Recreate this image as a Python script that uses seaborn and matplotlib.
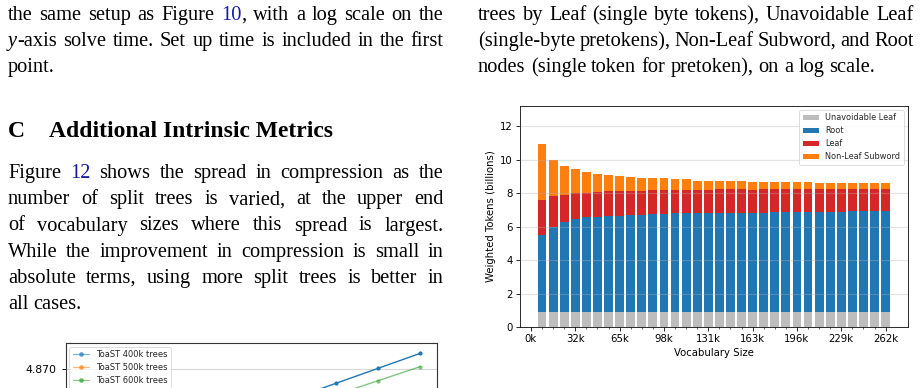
import re
import numpy as np
import pandas as pd
import matplotlib
matplotlib.use("Agg")
import matplotlib.pyplot as plt
import seaborn as sns
from matplotlib.lines import Line2D
from matplotlib.ticker import FixedLocator

# ---------------- data: main chart ----------------
vocab_sizes = [8192, 16384, 24576, 32768, 40960, 49152, 57344, 65536,
               73728, 81920, 90112, 98304, 106496, 114688, 122880, 131072,
               139264, 147456, 155648, 163840, 172032, 180224, 188416, 196608,
               204800, 212992, 221184, 229376, 237568, 245760, 253952, 262144]
unavoidable_leaf = [0.90, 0.90, 0.90, 0.90, 0.90, 0.90, 0.90, 0.90,
                    0.90, 0.90, 0.90, 0.90, 0.90, 0.90, 0.90, 0.90,
                    0.90, 0.90, 0.90, 0.90, 0.90, 0.90, 0.90, 0.90,
                    0.90, 0.90, 0.90, 0.90, 0.90, 0.90, 0.90, 0.90]
root = [4.57, 5.09, 5.39, 5.53, 5.65, 5.69, 5.75, 5.75,
        5.79, 5.79, 5.87, 5.87, 5.91, 5.91, 5.91, 5.91,
        5.91, 5.91, 5.91, 5.91, 5.91, 5.99, 5.99, 5.99,
        5.99, 5.99, 5.99, 5.99, 6.03, 6.03, 6.03, 6.03]
leaf = [2.14, 1.86, 1.62, 1.56, 1.44, 1.50, 1.50, 1.50,
        1.46, 1.46, 1.44, 1.44, 1.40, 1.40, 1.40, 1.40,
        1.46, 1.46, 1.46, 1.40, 1.46, 1.38, 1.38, 1.38,
        1.38, 1.38, 1.38, 1.38, 1.34, 1.34, 1.34, 1.34]
non_leaf_subword = [3.35, 2.15, 1.68, 1.42, 1.24, 1.02, 0.90, 0.84,
                    0.78, 0.72, 0.66, 0.66, 0.60, 0.60, 0.54, 0.54,
                    0.48, 0.48, 0.48, 0.48, 0.42, 0.42, 0.42, 0.42,
                    0.42, 0.36, 0.36, 0.36, 0.36, 0.36, 0.36, 0.36]
series_names = ["Unavoidable Leaf", "Root", "Leaf", "Non-Leaf Subword"]
xtick_values = [0, 32768, 65536, 98304, 131072, 163840, 196608, 229376, 262144]
xtick_labels = ["0k", "32k", "65k", "98k", "131k", "163k", "196k", "229k", "262k"]
ytick_values = [0, 2, 4, 6, 8, 10, 12]

# ---------------- data: partial chart (bottom left) ----------------
toast_labels = ["ToaST 400k trees", "ToaST 500k trees", "ToaST 600k trees", "ToaST 700k trees"]
toast400_x = [6, 7, 8, 9]
toast400_y = [4.86758, 4.86883, 4.87008, 4.87133]
toast600_x = [7, 8, 9]
toast600_y = [4.86788, 4.86905, 4.87022]
partial_yticks = [4.855, 4.860, 4.865, 4.870]

# ---------------- page text ----------------
left_top_lines = ["the same setup as Figure {b:10}, with a log scale on the",
                  "{i:y}-axis solve time. Set up time is included in the first",
                  "point."]
right_top_lines = ["trees by Leaf (single byte tokens), Unavoidable Leaf",
                   "(single-byte pretokens), Non-Leaf Subword, and Root",
                   "nodes (single token for pretoken), on a log scale."]
heading_num = "C"
heading_text = "Additional Intrinsic Metrics"
para_lines = ["Figure {b:12} shows the spread in compression as the",
              "number of split trees is varied, at the upper end",
              "of vocabulary sizes where this spread is largest.",
              "While the improvement in compression is small in",
              "absolute terms, using more split trees is better in",
              "all cases."]

# ---------------- figure ----------------
sns.set_style("ticks")
plt.rcParams['font.family'] = ['DejaVu Sans']
W, H = 923, 388
fig = plt.figure(figsize=(W / 100, H / 100), dpi=100)


def fx(x):
    return x / W


def fy(y):
    return 1 - y / H


def axes_px(left, top, right, bottom):
    return fig.add_axes([fx(left), fy(bottom), (right - left) / W, (bottom - top) / H])


# ---------- main stacked bar chart ----------
s = 0.73
colors = {"Unavoidable Leaf": "#bdbdbd", "Root": "#1f77b4",
          "Leaf": "#d62728", "Non-Leaf Subword": "#ff7f0e"}
ax = axes_px(520, 106, 907.7, 327)
stack = np.vstack([unavoidable_leaf, root, leaf, non_leaf_subword])
cum = np.cumsum(stack, axis=0)
for i in range(3, -1, -1):
    name = series_names[i]
    sns.barplot(x=vocab_sizes, y=cum[i], color=colors[name], native_scale=True,
                errorbar=None, linewidth=0, saturation=1, label=name, ax=ax)
ax.set_xlim(-8110, 278446)
ax.set_ylim(0, 13.2)
ax.set_xticks(xtick_values, xtick_labels)
ax.set_yticks(ytick_values)
ax.xaxis.set_minor_locator(FixedLocator(vocab_sizes))
ax.tick_params(axis='both', which='major', labelsize=10 * s, length=3.5 * s,
               width=0.8 * s, pad=3.5 * s, colors='black', labelcolor='black')
ax.tick_params(axis='x', which='minor', length=2 * s, width=0.6 * s, colors='black')
for sp in ax.spines.values():
    sp.set_linewidth(0.8 * s)
    sp.set_color('black')
ax.yaxis.grid(True, color='#b0b0b0', alpha=0.35, lw=1.2 * s)
ax.set_axisbelow(False)
ax.set_xlabel("Vocabulary Size", fontsize=10 * s, labelpad=4 * s, color='black')
ax.set_ylabel("Weighted Tokens (billions)", fontsize=10 * s, labelpad=4 * s, color='black')
handles, labels = ax.get_legend_handles_labels()
hmap = dict(zip(labels, handles))
leg = ax.legend([hmap[n] for n in series_names], series_names, loc='upper right',
                fontsize=8 * s, frameon=True, borderaxespad=0.5, fancybox=True)
leg.get_frame().set_linewidth(0.8 * s)
leg.get_frame().set_edgecolor('#cccccc')

# ---------- partial line chart (bottom left) ----------
ax2 = axes_px(65.7, 343.3, 437, 600)
sns.lineplot(x=toast400_x, y=toast400_y, color="#1f77b4", marker='o', markersize=3,
             markeredgewidth=0, lw=1.0, ax=ax2)
sns.lineplot(x=toast600_x, y=toast600_y, color="#2ca02c", alpha=0.6, marker='o', markersize=3,
             markeredgewidth=0, lw=1.0, ax=ax2)
ax2.set_xlim(0.6, 9.4)
ax2.set_ylim(4.85078, 4.87217)
ax2.set_yticks(partial_yticks, [f"{v:.3f}" for v in partial_yticks])
ax2.set_xticks([])
ax2.yaxis.grid(True, color='#b0b0b0', alpha=0.5, lw=0.8)
ax2.tick_params(axis='y', labelsize=7.8, length=3, width=0.7, colors='black', labelcolor='black')
for sp in ax2.spines.values():
    sp.set_linewidth(0.8)
    sp.set_color('#333333')
leg_colors = ["#1f77b4", "#ff7f0e", "#2ca02c", "#d62728"]
leg_handles = [Line2D([], [], color=c, alpha=0.55, marker='o', markersize=2.5, lw=0.9)
               for c in leg_colors]
leg2 = ax2.legend(leg_handles, toast_labels, loc='upper left', fontsize=6.0,
                  borderaxespad=0.45, frameon=True, labelspacing=0.45)
leg2.get_frame().set_linewidth(0.6)
leg2.get_frame().set_edgecolor('#cccccc')

# ---------- page text ----------
renderer = fig.canvas.get_renderer()
LINK = "#1a1aa6"
SERIF = "Liberation Serif"
BODY = 14.7


def seg_width(txt, **kw):
    t = fig.text(0, 0, txt, **kw)
    w = t.get_window_extent(renderer).width
    t.remove()
    return w


def parse_word(word):
    segs = []
    for part in re.split(r'(\{[bi]:[^}]*\})', word):
        if not part:
            continue
        m = re.match(r'\{([bi]):([^}]*)\}', part)
        if m:
            kind, txt = m.groups()
            segs.append((txt, dict(color=LINK) if kind == 'b' else dict(style='italic')))
        else:
            segs.append((part, {}))
    return segs


def draw_line(line, x0, x1, y, size=BODY, justify=True, weight='normal'):
    base = dict(family=SERIF, size=size, weight=weight, color='black')
    words = [parse_word(w) for w in line.split(' ')]
    widths = []
    for segs in words:
        widths.append(sum(seg_width(t, **{**base, **k}) for t, k in segs))
    if justify and len(words) > 1:
        gap = (x1 - x0 - sum(widths)) / (len(words) - 1)
    else:
        gap = seg_width("a a", **base) - seg_width("aa", **base)
    x = x0
    for segs, w in zip(words, widths):
        xx = x
        for t, k in segs:
            kk = {**base, **k}
            fig.text(fx(xx), fy(y), t, va='baseline', ha='left', **kk)
            xx += seg_width(t, **kk)
        x += w + gap


LX0, LX1 = 8, 443.5
RX0, RX1 = 478, 913.5
for i, ln in enumerate(left_top_lines):
    draw_line(ln, LX0, LX1, 20 + 25.9 * i, justify=(i < len(left_top_lines) - 1))
for i, ln in enumerate(right_top_lines):
    draw_line(ln, RX0, RX1, 20 + 25.9 * i, justify=(i < len(right_top_lines) - 1))
fig.text(fx(8), fy(136.7), heading_num, family=SERIF, size=17, weight='bold',
         va='baseline', ha='left', color='black')
fig.text(fx(49), fy(136.7), heading_text, family=SERIF, size=17, weight='bold',
         va='baseline', ha='left', color='black')
for i, ln in enumerate(para_lines):
    draw_line(ln, LX0, LX1, 178.3 + 26.1 * i, justify=(i < len(para_lines) - 1))

fig.savefig("out.png", dpi=100, facecolor='white')
